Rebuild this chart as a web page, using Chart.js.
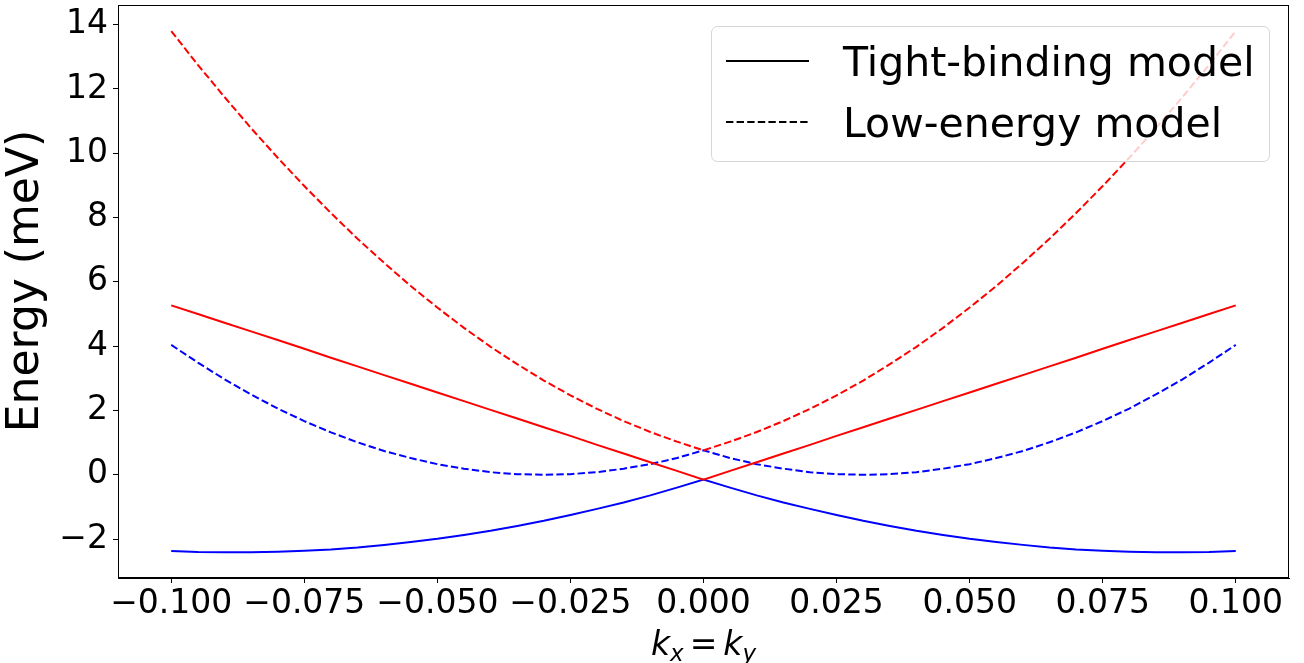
<!DOCTYPE html>
<html>
<head>
<meta charset="utf-8">
<script src="https://cdn.jsdelivr.net/npm/chart.js@4.4.1/dist/chart.umd.min.js"></script>
<style>
  html, body { margin: 0; padding: 0; background: #ffffff; }
  #wrap { width: 1304px; height: 663px; }
</style>
</head>
<body>
<div id="wrap"><canvas id="c" width="1304" height="663"></canvas></div>
<script>
// ---- data ----
const kValues = [-0.100,-0.095,-0.090,-0.085,-0.080,-0.075,-0.070,-0.065,-0.060,-0.055,-0.050,-0.045,-0.040,-0.035,-0.030,-0.025,-0.020,-0.015,-0.010,-0.005,0.000,
                 0.005,0.010,0.015,0.020,0.025,0.030,0.035,0.040,0.045,0.050,0.055,0.060,0.065,0.070,0.075,0.080,0.085,0.090,0.095,0.100];

const tightBindingUpper = [5.27,5.00,4.73,4.46,4.19,3.92,3.64,3.37,3.10,2.83,2.56,2.29,2.02,1.75,1.48,1.21,0.93,0.66,0.39,0.12,-0.15,
                           0.12,0.39,0.66,0.93,1.21,1.48,1.75,2.02,2.29,2.56,2.83,3.10,3.37,3.64,3.92,4.19,4.46,4.73,5.00,5.27];

const tightBindingLower = [-2.37,-2.40,-2.41,-2.41,-2.39,-2.36,-2.32,-2.26,-2.18,-2.09,-1.99,-1.87,-1.74,-1.59,-1.43,-1.25,-1.06,-0.86,-0.64,-0.40,-0.15,
                           -0.40,-0.64,-0.86,-1.06,-1.25,-1.43,-1.59,-1.74,-1.87,-1.99,-2.09,-2.18,-2.26,-2.32,-2.36,-2.39,-2.41,-2.41,-2.40,-2.37];

const lowEnergyUpper = [13.80,12.75,11.75,10.78,9.86,8.98,8.14,7.34,6.59,5.87,5.20,4.57,3.98,3.44,2.93,2.47,2.05,1.67,1.33,1.03,0.76,
                        1.03,1.33,1.67,2.05,2.47,2.93,3.44,3.98,4.57,5.20,5.87,6.59,7.34,8.14,8.98,9.86,10.78,11.75,12.75,13.80];

const lowEnergyLower = [4.04,3.49,2.97,2.50,2.06,1.67,1.32,1.01,0.74,0.52,0.33,0.19,0.08,0.02,0.00,0.02,0.08,0.19,0.33,0.52,0.76,
                        0.52,0.33,0.19,0.08,0.02,0.00,0.02,0.08,0.19,0.33,0.52,0.74,1.01,1.32,1.67,2.06,2.50,2.97,3.49,4.04];

const xTicks = [-0.100,-0.075,-0.050,-0.025,0.000,0.025,0.050,0.075,0.100];
const yTicks = [-2,0,2,4,6,8,10,12,14];
const legendLabels = ['Tight-binding model', 'Low-energy model'];
const yTitle = 'Energy (meV)';

const FONT = "'DejaVu Sans', 'Liberation Sans', sans-serif";
const toXY = arr => kValues.map((k, i) => ({ x: k, y: arr[i] }));
const minus = s => s.replace('-', '\u2212');

const framePlugin = {
  id: 'frameAndExtras',
  afterDraw(chart) {
    const { ctx, chartArea: a } = chart;
    ctx.save();
    // full axes frame
    ctx.strokeStyle = '#000';
    ctx.lineWidth = 1;
    ctx.strokeRect(Math.round(a.left) + 0.5, Math.round(a.top) + 0.5,
                   Math.round(a.right - a.left) - 1, Math.round(a.bottom - a.top) - 1);

    // legend box
    const bx = 711, by = 26, bw = 558, bh = 135, r = 6;
    ctx.beginPath();
    ctx.roundRect(bx + 0.5, by + 0.5, bw, bh, r);
    ctx.fillStyle = 'rgba(255,255,255,0.8)';
    ctx.fill();
    ctx.strokeStyle = '#d6d6d6';
    ctx.lineWidth = 1;
    ctx.stroke();

    // legend handles
    ctx.strokeStyle = '#000';
    ctx.lineWidth = 2;
    ctx.setLineDash([]);
    ctx.beginPath(); ctx.moveTo(726, 61); ctx.lineTo(809, 61); ctx.stroke();
    ctx.setLineDash([7.4, 3.2]);
    ctx.beginPath(); ctx.moveTo(726, 122); ctx.lineTo(809, 122); ctx.stroke();
    ctx.setLineDash([]);

    // legend texts
    ctx.fillStyle = '#000';
    ctx.font = '41px ' + FONT;
    ctx.textAlign = 'left';
    ctx.textBaseline = 'alphabetic';
    ctx.fillText(legendLabels[0], 843, 76);
    ctx.fillText(legendLabels[1], 843, 137);

    // y-axis label
    ctx.save();
    ctx.translate(27, 281);
    ctx.rotate(-Math.PI / 2);
    ctx.font = '44px ' + FONT;
    ctx.textAlign = 'center';
    ctx.textBaseline = 'middle';
    ctx.fillText(yTitle, 0, 0);
    ctx.restore();

    // x-axis label: k_x = k_y
    const big = 33, small = 23, gap = 6;
    const fBig = 'italic ' + big + 'px ' + FONT;
    const fSmall = 'italic ' + small + 'px ' + FONT;
    const fEq = big + 'px ' + FONT;
    const parts = [
      { t: 'k', f: fBig, dy: 0, pre: 0 },
      { t: 'x', f: fSmall, dy: 6, pre: 0 },
      { t: '=', f: fEq, dy: 0, pre: gap },
      { t: 'k', f: fBig, dy: 0, pre: gap },
      { t: 'y', f: fSmall, dy: 6, pre: 0 }
    ];
    let total = 0;
    parts.forEach(p => { ctx.font = p.f; p.w = ctx.measureText(p.t).width; total += p.pre + p.w; });
    let x = (a.left + a.right) / 2 - total / 2;
    const base = 655;
    ctx.textAlign = 'left';
    ctx.textBaseline = 'alphabetic';
    parts.forEach(p => {
      x += p.pre;
      ctx.font = p.f;
      ctx.fillText(p.t, x, base + p.dy);
      x += p.w;
    });
    ctx.restore();
  }
};

new Chart(document.getElementById('c').getContext('2d'), {
  type: 'line',
  data: {
    datasets: [
      { label: 'TB upper', data: toXY(tightBindingUpper), borderColor: '#ff0000', borderWidth: 2 },
      { label: 'TB lower', data: toXY(tightBindingLower), borderColor: '#0000ff', borderWidth: 2 },
      { label: 'LE upper', data: toXY(lowEnergyUpper), borderColor: '#ff0000', borderWidth: 2, borderDash: [7.4, 3.2] },
      { label: 'LE lower', data: toXY(lowEnergyLower), borderColor: '#0000ff', borderWidth: 2, borderDash: [7.4, 3.2] }
    ].map(d => Object.assign({ pointRadius: 0, tension: 0, fill: false }, d))
  },
  options: {
    responsive: false,
    animation: false,
    devicePixelRatio: 1,
    layout: { padding: { left: 0, top: 5, right: 15, bottom: 0 } },
    plugins: { legend: { display: false }, tooltip: { enabled: false } },
    scales: {
      x: {
        type: 'linear',
        min: -0.11, max: 0.11,
        afterBuildTicks: s => { s.ticks = xTicks.map(v => ({ value: v })); },
        afterFit: s => { s.height = 85; s.paddingLeft = 0; s.paddingRight = 0; },
        ticks: {
          autoSkip: false, maxRotation: 0, padding: 2, color: '#000',
          font: { family: FONT, size: 33 },
          callback: v => minus(Number(v).toFixed(3))
        },
        grid: { drawOnChartArea: false, drawTicks: true, tickLength: 5, tickColor: '#000', tickWidth: 1, color: '#000' },
        border: { display: true, color: '#000', width: 1 }
      },
      y: {
        type: 'linear',
        min: -3.21, max: 14.61,
        afterBuildTicks: s => { s.ticks = yTicks.map(v => ({ value: v })); },
        afterFit: s => { s.width = 118; s.paddingTop = 0; s.paddingBottom = 0; },
        ticks: {
          autoSkip: false, padding: 5, color: '#000',
          font: { family: FONT, size: 33 },
          callback: v => minus(String(v))
        },
        grid: { drawOnChartArea: false, drawTicks: true, tickLength: 5, tickColor: '#000', tickWidth: 1, color: '#000' },
        border: { display: true, color: '#000', width: 1 }
      }
    }
  },
  plugins: [framePlugin]
});
</script>
</body>
</html>
